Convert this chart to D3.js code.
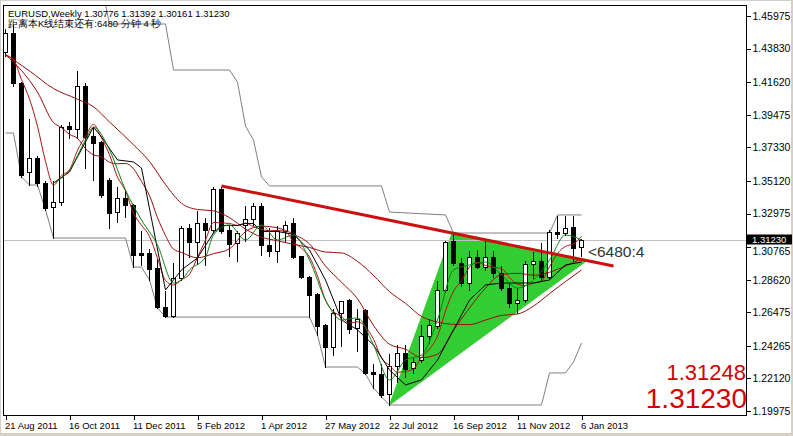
<!DOCTYPE html>
<html><head><meta charset="utf-8">
<script src="https://cdn.jsdelivr.net/npm/d3@7/dist/d3.min.js"></script>
<style>
html,body{margin:0;padding:0;background:#fff;overflow:hidden;}
svg{display:block;}
text{font-family:"Liberation Sans",Arial,sans-serif;}
</style></head><body>
<svg id="c" width="793" height="436"></svg>
<script>
// ---------- DATA ----------
const symbolTitle = "EURUSD,Weekly  1.30776 1.31392 1.30161 1.31230";
const countdownText = "距离本K线结束还有:6480 分钟 4 秒";
const tickLabels = ["21 Aug 2011","16 Oct 2011","11 Dec 2011","5 Feb 2012","1 Apr 2012","27 May 2012","22 Jul 2012","16 Sep 2012","11 Nov 2012","6 Jan 2013"];
const tickBars = [0,8,16,24,32,40,48,56,64,72];
const priceTicks = [1.45975,1.43830,1.41620,1.39475,1.37330,1.35120,1.32975,1.30765,1.28620,1.26475,1.24265,1.22120,1.19975];
const bidPrice = 1.31230;
const askPrice = 1.31248;

const open  = [1.4361,1.4486,1.4157,1.3571,1.3663,1.3498,1.3340,1.3373,1.3873,1.3854,
               1.4137,1.3808,1.3768,1.3518,1.3307,1.3400,1.3353,1.3038,1.3038,1.2939,
               1.2682,1.2623,1.2873,1.3202,1.3110,1.3235,1.3189,1.3459,1.3189,1.3103,
               1.3222,1.3261,1.3347,1.3090,1.3051,1.3182,1.3235,1.3018,1.2880,1.2768,
               1.2564,1.2419,1.2643,1.2728,1.2544,1.2662,1.2254,1.2241,1.2109,1.2294,
               1.2379,1.2281,1.2333,1.2491,1.2557,1.2794,1.3116,1.2972,1.2840,1.3011,
               1.2945,1.3011,1.2906,1.2807,1.2708,1.2728,1.2965,1.2985,1.2880,1.3176,
               1.3169,1.3209,1.30776];
const high  = [1.4519,1.4545,1.4170,1.3926,1.3683,1.3518,1.3518,1.3887,1.3906,1.4242,
               1.4163,1.3873,1.3781,1.3538,1.3479,1.3452,1.3367,1.3189,1.3070,1.3005,
               1.2794,1.2978,1.3222,1.3235,1.3321,1.3274,1.3479,1.3479,1.3222,1.3189,
               1.3353,1.3373,1.3373,1.3209,1.3222,1.3255,1.3274,1.3024,1.2893,1.2781,
               1.2577,1.2675,1.2728,1.2741,1.2675,1.2675,1.2313,1.2313,1.2379,1.2439,
               1.2439,1.2353,1.2570,1.2610,1.2860,1.3123,1.3169,1.3011,1.3057,1.3064,
               1.3130,1.3057,1.2958,1.2847,1.2813,1.2991,1.3051,1.3110,1.3195,1.3288,
               1.3288,1.3288,1.31392];
const low   = [1.4334,1.4137,1.3538,1.3485,1.3479,1.3321,1.3136,1.3353,1.3794,1.3794,
               1.3597,1.3518,1.3406,1.3202,1.3242,1.3274,1.2945,1.2959,1.2860,1.2675,
               1.2616,1.2616,1.2860,1.3011,1.2965,1.2959,1.3176,1.3169,1.3018,1.2985,
               1.3116,1.3222,1.3024,1.3018,1.2978,1.3116,1.3005,1.2873,1.2616,1.2498,
               1.2287,1.2366,1.2425,1.2511,1.2392,1.2241,1.2149,1.2090,1.2037,1.2188,
               1.2221,1.2248,1.2320,1.2445,1.2544,1.2781,1.2959,1.2820,1.2794,1.2939,
               1.2926,1.2880,1.2794,1.2682,1.2643,1.2715,1.2873,1.2860,1.2866,1.3136,
               1.3156,1.2985,1.30161];
const close = [1.4486,1.4157,1.3551,1.3663,1.3498,1.3334,1.3373,1.3867,1.3854,1.4137,
               1.3801,1.3762,1.3419,1.3301,1.3400,1.3353,1.3024,1.3024,1.2932,1.2682,
               1.2623,1.2873,1.3202,1.3110,1.3235,1.3189,1.3459,1.3182,1.3097,1.3169,
               1.3261,1.3347,1.3090,1.3051,1.3182,1.3222,1.3011,1.2880,1.2761,1.2557,
               1.2419,1.2643,1.2722,1.2537,1.2603,1.2248,1.2241,1.2103,1.2294,1.2379,
               1.2274,1.2320,1.2491,1.2564,1.2794,1.3110,1.2972,1.2840,1.3011,1.2945,
               1.3011,1.2906,1.2807,1.2708,1.2728,1.2965,1.2985,1.2880,1.3176,1.3163,
               1.3202,1.3070,1.31230];

// indicator lines: [bar, price]
const maSlow = [[0,1.4345],[3,1.4236],[6,1.4120],[9,1.4050],[11,1.4000],[13,1.3900],[16,1.3750],[18,1.3640],[20,1.3488],[22,1.3365],[24,1.3324],[26,1.3315],[28,1.3270],[30,1.3195],[32,1.3142],[34,1.3118],[36,1.3094],[38,1.3074],[40,1.3044],[42,1.3038],[44,1.2982],[46,1.2890],[48,1.2783],[50,1.2706],[52,1.2620],[54,1.2583],[56,1.2568],[58,1.2566],[60,1.2596],[62,1.2627],[64,1.2636],[66,1.2688],[68,1.2770],[70,1.2850],[72,1.2926]];
const maMid = [[0,1.4341],[2,1.4239],[4,1.4096],[6,1.3896],[7,1.3863],[8,1.3818],[9,1.3792],[10,1.3724],[11,1.3684],[12,1.3671],[13,1.3635],[14,1.3625],[15,1.3627],[16,1.3592],[17,1.3508],[18,1.3415],[19,1.3270],[20,1.3152],[21,1.3063],[22,1.3041],[24,1.3006],[26,1.3033],[28,1.3065],[30,1.3178],[32,1.3214],[34,1.3203],[36,1.3161],[38,1.3097],[40,1.2952],[42,1.2845],[44,1.2736],[46,1.2561],[48,1.2437],[50,1.2404],[52,1.2349],[54,1.2371],[56,1.2530],[58,1.2676],[60,1.2806],[62,1.2896],[64,1.2904],[66,1.2891],[68,1.2911],[70,1.2952],[72,1.3000]];
const maFast = [[0,1.4340],[1,1.4309],[2,1.4179],[3,1.4051],[4,1.3871],[5,1.3641],[6,1.3484],[7,1.3547],[8,1.3585],[9,1.3713],[10,1.3806],[11,1.3884],[12,1.3795],[13,1.3684],[14,1.3537],[15,1.3447],[16,1.3299],[17,1.3220],[18,1.3147],[19,1.3003],[20,1.2857],[21,1.2827],[22,1.2862],[23,1.2898],[24,1.3009],[25,1.3122],[26,1.3239],[27,1.3235],[28,1.3232],[29,1.3219],[30,1.3234],[31,1.3211],[32,1.3193],[33,1.3184],[34,1.3186],[35,1.3178],[36,1.3111],[37,1.3069],[38,1.3011],[39,1.2886],[40,1.2726],[41,1.2652],[42,1.2620],[43,1.2576],[44,1.2585],[45,1.2551],[46,1.2470],[47,1.2346],[48,1.2298],[49,1.2253],[50,1.2258],[51,1.2274],[52,1.2352],[53,1.2406],[54,1.2489],[55,1.2656],[56,1.2786],[57,1.2856],[58,1.2945],[59,1.2976],[60,1.2956],[61,1.2943],[62,1.2936],[63,1.2875],[64,1.2832],[65,1.2823],[66,1.2839],[67,1.2853],[68,1.2947],[69,1.3034],[70,1.3081],[71,1.3098],[72,1.3147]];
const midLine = [[6,1.3498],[8,1.3571],[11,1.3867],[12,1.3801],[14,1.3650],[16,1.3637],[17,1.3597],[20,1.2794],[22,1.2926],[24,1.3005],[26,1.3170],[27,1.3219],[29,1.3219],[30,1.3232],[31,1.3232],[32,1.3179],[34,1.3179],[36,1.3160],[38,1.3057],[40,1.2860],[42,1.2597],[44,1.2531],[46,1.2432],[48,1.2267],[50,1.2169],[52,1.2202],[54,1.2333],[56,1.2531],[58,1.2728],[60,1.2827],[62,1.2840],[64,1.2840],[66,1.2840],[68,1.2860],[70,1.2959],[72,1.2978]];
const greenLine = [[6,1.3498],[8,1.3584],[10,1.3781],[11,1.3867],[13,1.3716],[15,1.3452],[17,1.3255],[19,1.3090],[21,1.2840],[22,1.2860],[23,1.2926],[25,1.3011],[26,1.3156],[28,1.3222],[30,1.3123],[32,1.3222],[34,1.3123],[36,1.3156],[38,1.2991],[40,1.2728],[42,1.2597],[44,1.2610],[46,1.2432],[48,1.2202],[50,1.2333],[52,1.2366],[54,1.2597],[56,1.2926],[58,1.2959],[60,1.2978],[62,1.2893],[64,1.2807],[66,1.2860],[68,1.2991],[70,1.3156],[72,1.3123]];
const channelUpper = [[0,1.4800],[12,1.4800],[13,1.4545],[20,1.4545],[21,1.4242],[28,1.4242],[29,1.4163],[30,1.3873],[31,1.3781],[32,1.3538],[33,1.3479],[47,1.3479],[48,1.3307],[55,1.3288],[56,1.3169],[68,1.3169],[69,1.3288],[72,1.3288]];
const channelLower = [[0,1.3827],[1,1.3827],[2,1.3538],[3,1.3485],[4,1.3485],[5,1.3321],[6,1.3136],[15,1.3136],[16,1.2945],[17,1.2945],[18,1.2860],[19,1.2675],[20,1.2616],[38,1.2616],[39,1.2498],[40,1.2287],[44,1.2287],[45,1.2241],[46,1.2149],[47,1.2090],[48,1.2037],[67,1.2037],[68,1.2248],[70,1.2248],[71,1.2320],[72,1.2445]];
const trendLine = [[27,1.3479],[76,1.2952]];
const triangle = [[48,1.2037],[55.8,1.3165],[72.6,1.2985]];
const countdownLabel = "<6480:4";
const countdownAnchor = [72.8, 1.3014];

// ---------- LAYOUT ----------
const W = 793, H = 436;
const plot = {left:3, top:5, right:746, bottom:415};
const svg = d3.select("#c");

svg.append("rect").attr("width",W).attr("height",H).attr("fill","#d4d0c8");
svg.append("rect").attr("x",1).attr("y",1).attr("width",W-3).attr("height",H-4).attr("fill","#ffffff");

const x = d3.scaleLinear().domain([0,72]).range([5.5,581.5]);
const y = d3.scaleLinear().domain([1.19975,1.45975]).range([411,16]);
const py = v => Math.round(y(v)) + 0.5;

svg.append("defs").append("clipPath").attr("id","clip")
  .append("rect").attr("x",plot.left+1).attr("y",plot.top+1)
  .attr("width",plot.right-plot.left-1).attr("height",plot.bottom-plot.top-1);

const g = svg.append("g").attr("clip-path","url(#clip)");

// triangle (background object)
g.append("path")
  .attr("d", d3.line().x(d=>x(d[0])).y(d=>y(d[1]))(triangle) + "Z")
  .attr("fill","#33cc33").attr("stroke","#33cc33").attr("stroke-width",1);

// bid line
g.append("line").attr("x1",plot.left).attr("x2",plot.right)
  .attr("y1",py(bidPrice)).attr("y2",py(bidPrice))
  .attr("stroke","#c0c0c0").attr("stroke-width",1);

// channel lines
const ln = d3.line().x(d=>x(d[0])).y(d=>y(d[1]));
const lnSmooth = d3.line().x(d=>x(d[0])).y(d=>y(d[1])).curve(d3.curveMonotoneX);
[channelUpper, channelLower].forEach(arr=>{
  g.append("path").attr("d",ln(arr)).attr("fill","none").attr("stroke","#808080").attr("stroke-width",1);
});

// candles
const bars = d3.range(open.length).map(i=>({i,o:open[i],h:high[i],l:low[i],c:close[i]}));
const cg = g.append("g").attr("shape-rendering","crispEdges");
cg.selectAll("line.w").data(bars).join("line").attr("class","w")
  .attr("x1",d=>x(d.i)).attr("x2",d=>x(d.i))
  .attr("y1",d=>py(d.h)).attr("y2",d=>py(d.l))
  .attr("stroke","#000");
cg.selectAll("rect.b").data(bars).join("rect").attr("class","b")
  .attr("x",d=>x(d.i)-2).attr("width",4)
  .attr("y",d=>Math.min(py(d.o),py(d.c)))
  .attr("height",d=>Math.max(Math.abs(py(d.o)-py(d.c)),0.01))
  .attr("fill",d=>d.c>=d.o?"#ffffff":"#000000")
  .attr("stroke","#000").attr("stroke-width",1);

// indicator lines
const lineStyles = [
  [maSlow,"#960c0c",lnSmooth],[maMid,"#960c0c",lnSmooth],[maFast,"#b01414",lnSmooth],[midLine,"#000000",ln],[greenLine,"#108010",lnSmooth]
];
lineStyles.forEach(([arr,col,gen])=>{
  g.append("path").attr("d",gen(arr)).attr("fill","none").attr("stroke",col).attr("stroke-width",1);
});

// trend line
g.append("path").attr("d",ln(trendLine)).attr("fill","none")
  .attr("stroke","#cc1010").attr("stroke-width",3);

// countdown label
g.append("text").attr("x",x(countdownAnchor[0])).attr("y",y(countdownAnchor[1]))
  .attr("font-size",15.5).attr("fill","#333").text(countdownLabel);

// border
svg.append("rect").attr("x",plot.left+0.5).attr("y",plot.top+0.5)
  .attr("width",plot.right-plot.left).attr("height",plot.bottom-plot.top)
  .attr("fill","none").attr("stroke","#000").attr("shape-rendering","crispEdges");

// y axis
const yAxis = d3.axisRight(y).tickValues(priceTicks).tickSize(4).tickPadding(2).tickFormat(d3.format(".5f"));
const ya = svg.append("g").attr("transform",`translate(${plot.right+0.5},0)`).call(yAxis);
ya.select(".domain").remove();
ya.selectAll("text").attr("font-size",10.5).attr("font-family","Liberation Sans, Arial, sans-serif").attr("fill","#000")
  .attr("dy", d => Math.abs(d - bidPrice) < 0.006 ? "0.68em" : "0.32em");
ya.selectAll("line").attr("stroke","#000").attr("shape-rendering","crispEdges");

// x axis
const xAxis = d3.axisBottom(x).tickValues(tickBars).tickSize(4).tickPadding(3).tickFormat((d,i)=>tickLabels[i]);
const xa = svg.append("g").attr("transform",`translate(0,${plot.bottom+0.5})`).call(xAxis);
xa.select(".domain").remove();
xa.selectAll("text").attr("font-size",9.5).attr("font-family","Liberation Sans, Arial, sans-serif")
  .attr("text-anchor","start").attr("dx",-1).attr("fill","#000");
xa.selectAll("line").attr("stroke","#000").attr("shape-rendering","crispEdges");

// bid label on axis
svg.append("rect").attr("x",plot.right+1).attr("y",py(bidPrice)-6).attr("width",45).attr("height",10).attr("fill","#000");
svg.append("text").attr("x",plot.right+6).attr("y",py(bidPrice)+2.5).attr("font-size",9.5).attr("fill","#fff")
  .text(d3.format(".5f")(bidPrice));

// title texts
svg.append("text").attr("x",8).attr("y",17).attr("font-size",9.5).attr("fill","#000").text(symbolTitle);
svg.append("text").attr("x",8).attr("y",27).attr("font-size",9.5).attr("fill","#000")
  .attr("font-family","Noto Sans CJK SC, sans-serif").text(countdownText);

// big prices
svg.append("text").attr("x",746).attr("y",380).attr("text-anchor","end").attr("font-size",22).attr("fill","#d40000")
  .text(d3.format(".5f")(askPrice));
svg.append("text").attr("x",747).attr("y",408).attr("text-anchor","end").attr("font-size",28).attr("fill","#d40000")
  .text(d3.format(".5f")(bidPrice));
</script>
</body></html>
